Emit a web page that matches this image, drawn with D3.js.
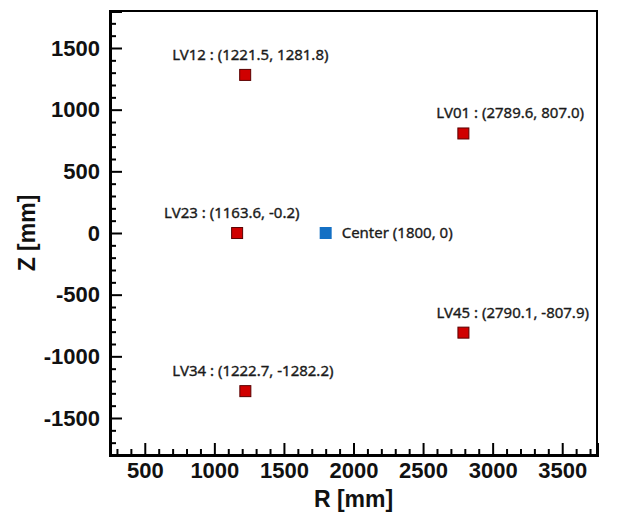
<!DOCTYPE html>
<html>
<head>
<meta charset="utf-8">
<script src="https://cdn.jsdelivr.net/npm/d3@7"></script>
<style>
  html, body { margin: 0; padding: 0; background: #fff; }
  svg { display: block; }
</style>
</head>
<body>
<svg id="chart" width="620" height="516"></svg>
<script>
// ---- data ----
const pointNames = ["LV12", "LV01", "LV23", "LV45", "LV34"];
const pointR = [1221.5, 2789.6, 1163.6, 2790.1, 1222.7];
const pointZ = [1281.8, 807.0, -0.2, -807.9, -1282.2];
const centerName = "Center";
const centerR = [1800];
const centerZ = [0];
const xTicks = [500, 1000, 1500, 2000, 2500, 3000, 3500];
const yTicks = [-1500, -1000, -500, 0, 500, 1000, 1500];
const xDomain = [250, 3750];
const yDomain = [-1800, 1800];
const xTitle = "R [mm]";
const yTitle = "Z [mm]";

// ---- layout ----
const W = 620, H = 516;
const m = { left: 110, right: 23, top: 11, bottom: 61 };
const iw = W - m.left - m.right, ih = H - m.top - m.bottom;

const svg = d3.select("#chart");
const g = svg.append("g").attr("transform", `translate(${m.left},${m.top})`);

const x = d3.scaleLinear().domain(xDomain).range([0, iw]);
const y = d3.scaleLinear().domain(yDomain).range([ih, 0]);

const tickFont = "'Liberation Sans', Arial, sans-serif";
const labelFont = "'Noto Sans', 'Open Sans', sans-serif";
const intFmt = v => d3.format("d")(v).replace("\u2212", "-");

// frame (top / right thinner)
g.append("rect").attr("x", 0).attr("y", 0).attr("width", iw).attr("height", ih)
  .attr("fill", "none").attr("stroke", "#000").attr("stroke-width", 2);

// minor ticks
const xMinor = d3.range(300, 3750, 100).filter(v => v % 500 !== 0);
const yMinor = d3.range(-1700, 1800, 100).filter(v => v % 500 !== 0);

const xAxis = d3.axisBottom(x).tickValues(xTicks).tickSize(-12).tickPadding(7).tickFormat(intFmt);
const yAxis = d3.axisLeft(y).tickValues(yTicks).tickSize(-12).tickPadding(10).tickFormat(intFmt);

g.append("g").attr("transform", `translate(0,${ih})`)
  .call(d3.axisBottom(x).tickValues(xMinor).tickSize(-6).tickFormat(""))
  .call(s => s.select(".domain").remove());
g.append("g")
  .call(d3.axisLeft(y).tickValues(yMinor).tickSize(-6).tickFormat(""))
  .call(s => s.select(".domain").remove());

const xa = g.append("g").attr("transform", `translate(0,${ih})`).call(xAxis);
const ya = g.append("g").call(yAxis);

[xa, ya].forEach(a => {
  a.select(".domain").attr("stroke", "#000").attr("stroke-width", 3);
  a.selectAll(".tick text")
    .attr("font-family", tickFont).attr("font-weight", "bold")
    .attr("font-size", 22).attr("fill", "#111");
});
g.selectAll(".tick line").attr("stroke", "#000").attr("stroke-width", 2);

// axis titles
svg.append("text").attr("x", m.left + x(2000)).attr("y", 507)
  .attr("text-anchor", "middle").attr("font-family", tickFont)
  .attr("font-weight", "bold").attr("font-size", 23).attr("fill", "#111")
  .text(xTitle);
svg.append("text")
  .attr("transform", `translate(35,${m.top + y(0)}) rotate(-90)`)
  .attr("text-anchor", "middle").attr("font-family", tickFont)
  .attr("font-weight", "bold").attr("font-size", 23).attr("fill", "#111")
  .text(yTitle);

// points
const pts = pointNames.map((n, i) => ({ name: n, r: pointR[i], z: pointZ[i] }));
const sz = 11;
g.selectAll("rect.pt").data(pts).enter().append("rect").attr("class", "pt")
  .attr("x", d => x(d.r) - sz / 2).attr("y", d => y(d.z) - sz / 2)
  .attr("width", sz).attr("height", sz)
  .attr("fill", "#d00000").attr("stroke", "#5a0000").attr("stroke-width", 1);

const fmt = v => d3.format(".1f")(v).replace("\u2212", "-");
g.selectAll("text.pl").data(pts).enter().append("text").attr("class", "pl")
  .attr("x", d => x(d.r) + (d.r > 2000 ? -27 : -73))
  .attr("y", d => y(d.z) - 15)
  .attr("font-family", labelFont).attr("font-size", 15).attr("fill", "#1a1a1a")
  .attr("stroke", "#1a1a1a").attr("stroke-width", 0.35)
  .text(d => `${d.name} : (${fmt(d.r)}, ${fmt(d.z)})`);

// center
g.selectAll("rect.ct").data(centerR).enter().append("rect").attr("class", "ct")
  .attr("x", (d, i) => x(d) - 6).attr("y", (d, i) => y(centerZ[i]) - 6)
  .attr("width", 12).attr("height", 12).attr("fill", "#1470c4");
g.selectAll("text.ct").data(centerR).enter().append("text").attr("class", "ct")
  .attr("x", (d, i) => x(d) + 16).attr("y", (d, i) => y(centerZ[i]) + 5)
  .attr("font-family", labelFont).attr("font-size", 15).attr("fill", "#1a1a1a")
  .attr("stroke", "#1a1a1a").attr("stroke-width", 0.35)
  .text((d, i) => `${centerName} (${d}, ${centerZ[i]})`);
</script>
</body>
</html>
